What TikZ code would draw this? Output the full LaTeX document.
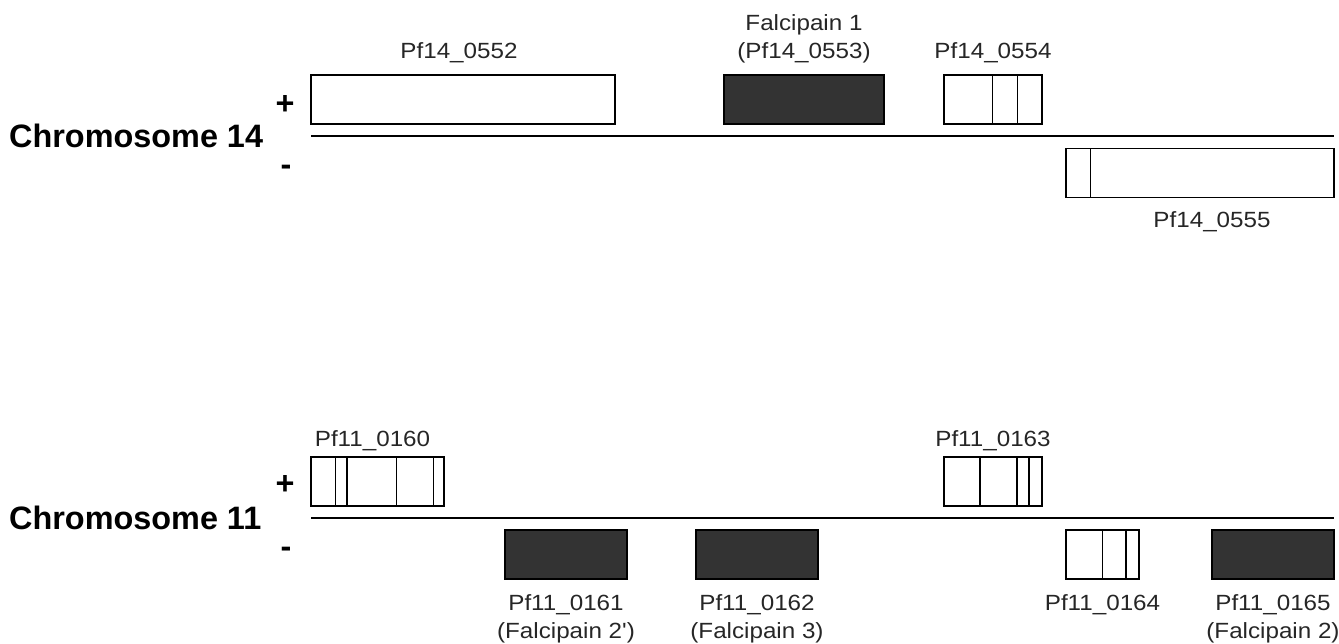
\documentclass[tikz,border=0pt]{standalone}
\usepackage{fontspec}
\setmainfont{Liberation Sans}
\newfontfamily\genefont{Liberation Sans}[FakeStretch=1.1]
\usetikzlibrary{positioning}
\tikzset{
  gene/.style={draw, line width=1.3pt, inner sep=0pt, minimum height=49pt},
  fp/.style={gene, fill=black!80},
  lbl/.style={inner sep=0pt, align=center, text=black!85, font=\genefont\fontsize{22}{28}\selectfont},
  strand/.style={inner sep=0pt, font=\fontsize{32.4}{36}\selectfont\bfseries},
}
\begin{document}
\begin{tikzpicture}[x=1pt,y=-1pt]
  \useasboundingbox (0,0) rectangle (1339,643);
  % chromosome 14
  \node[strand, anchor=west] (chr14) at (9,136) {Chromosome 14};
  \node[strand] (plus14) at (285,105) {+};
  \node[strand] (minus14) at (286,170) {-};
  \draw[line width=1.5pt] (311,136) -- (1334,136);
  \node[gene, minimum width=304pt] (g0552) at (463,99.5) {};
  \node[fp, minimum width=160pt] (g0553) at (804,99.5) {};
  \node[gene, minimum width=98pt] (g0554) at (993,99.5) {};
  \node[gene, minimum width=268pt] (g0555) at (1200,173) {};
  \node[lbl, above=11.5pt of g0552, xshift=-4pt] (l0552) {Pf14\_0552};
  \node[lbl, above=11.5pt of g0553] (l0553) {Falcipain 1\\(Pf14\_0553)};
  \node[lbl, above=11.5pt of g0554] (l0554) {Pf14\_0554};
  \node[lbl, below=13pt of g0555, xshift=12pt] (l0555) {Pf14\_0555};
  % chromosome 11
  \node[strand, anchor=west] (chr11) at (9,518) {Chromosome 11};
  \node[strand] (plus11) at (285,485) {+};
  \node[strand] (minus11) at (286,552) {-};
  \draw[line width=1.5pt] (311,518) -- (1334,518);
  \node[gene, minimum width=133pt] (g0160) at (377.5,481.5) {};
  \node[fp, minimum width=122pt] (g0161) at (566,554.5) {};
  \node[fp, minimum width=122pt] (g0162) at (757,554.5) {};
  \node[gene, minimum width=98pt] (g0163) at (993,481.5) {};
  \node[gene, minimum width=73pt] (g0164) at (1102.5,554.5) {};
  \node[fp, minimum width=122pt] (g0165) at (1273,554.5) {};
  \node[lbl, above=5.5pt of g0160, xshift=-5pt] (l0160) {Pf11\_0160};
  \node[lbl, below=15pt of g0161] (l0161) {Pf11\_0161\\(Falcipain 2')};
  \node[lbl, below=15pt of g0162] (l0162) {Pf11\_0162\\(Falcipain 3)};
  \node[lbl, above=5.5pt of g0163] (l0163) {Pf11\_0163};
  \node[lbl, below=15pt of g0164] (l0164) {Pf11\_0164};
  \node[lbl, below=15pt of g0165] (l0165) {Pf11\_0165\\(Falcipain 2)};
  % exon borders
  \foreach \x/\ya/\yb in {992.5/75/124, 1017.5/75/124, 1090.5/149/197,
      335.5/457/506, 347/457/506, 396.5/457/506, 433.5/457/506,
      980/457/506, 1017/457/506, 1029/457/506, 1102.5/530/579, 1126/530/579}
    \draw[line width=1.3pt] (\x,\ya) -- (\x,\yb);
\end{tikzpicture}
\end{document}
